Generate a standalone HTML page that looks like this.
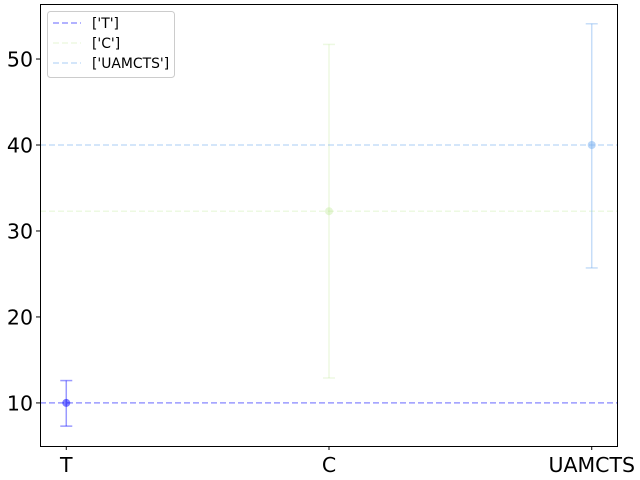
<!DOCTYPE html>
<html><head><meta charset="utf-8"><style>body{margin:0;background:#fff}svg{display:block;font-family:"DejaVu Sans","Liberation Sans",sans-serif}</style></head>
<body>
<svg id="chart" width="640" height="480"></svg>
<script>
const categories=["T","C","UAMCTS"];
const means=[10,32.3,40];
const lows=[7.3,12.9,25.7];
const highs=[12.6,51.7,54.1];
const yTicks=[10,20,30,40,50];
const colors=["#0000ff","#b8e68a","#80b4f0"];
const lineAlpha=[0.4,0.25,0.45];
const L=40,R=618,T=4,B=446;
const x=i=>L+(i+0.1)/2.2*(R-L);
const y=v=>B-(v-4.99)/(56.4-4.99)*(B-T);
const svg=document.getElementById('chart');
const NS="http://www.w3.org/2000/svg";
function mk(t,a,p){const e=document.createElementNS(NS,t);for(const k in a)e.setAttribute(k,a[k]);(p||svg).appendChild(e);return e;}
yTicks.forEach(v=>{
 const l=mk('line',{x1:L-4,x2:L,y1:y(v),y2:y(v),stroke:'#000'});
 
 
 const t=mk('text',{x:L-7,y:y(v)+7.5,'text-anchor':'end','font-size':20.5});
 t.textContent=v;
 
 
});
categories.forEach((c,i)=>{
 mk('line',{x1:x(i),x2:x(i),y1:B,y2:B+4,stroke:'#000'});
 const t=mk('text',{x:x(i),y:B+26,'text-anchor':'middle','font-size':20.5});
 t.textContent=c;
 
 
 const g=mk('g',{});
 
 
 mk('line',{x1:L,x2:R,y1:y(means[i]),y2:y(means[i]),stroke:colors[i],'stroke-opacity':lineAlpha[i],'stroke-width':1.5,'stroke-dasharray':'6,3'},g);
 mk('line',{x1:x(i),x2:x(i),y1:y(lows[i]),y2:y(highs[i]),stroke:colors[i],'stroke-opacity':lineAlpha[i],'stroke-width':1.5},g);
 [lows[i],highs[i]].forEach(v=>mk('line',{x1:x(i)-6,x2:x(i)+6,y1:y(v),y2:y(v),stroke:colors[i],'stroke-opacity':lineAlpha[i],'stroke-width':1.5},g));
 mk('circle',{cx:x(i),cy:y(means[i]),r:4,fill:colors[i],'fill-opacity':lineAlpha[i]+0.1},g);
});
const fr=mk('rect',{x:L+0.5,y:T+0.5,width:R-L-1,height:B-T,fill:'none',stroke:'#000'});


const lg=mk('g',{});


mk('rect',{x:47.5,y:11.5,width:127,height:66,rx:3,fill:'#fff',stroke:'#ccc'},lg);
categories.forEach((c,i)=>{
 const yy=23+i*20;
 mk('line',{x1:53,x2:81,y1:yy,y2:yy,stroke:colors[i],'stroke-opacity':lineAlpha[i],'stroke-width':1.5,'stroke-dasharray':'6,3'},lg);
 const t=mk('text',{x:92,y:yy+5,'font-size':13.9},lg);
 t.textContent="['"+c+"']";
 
 
});
</script>
</body></html>
